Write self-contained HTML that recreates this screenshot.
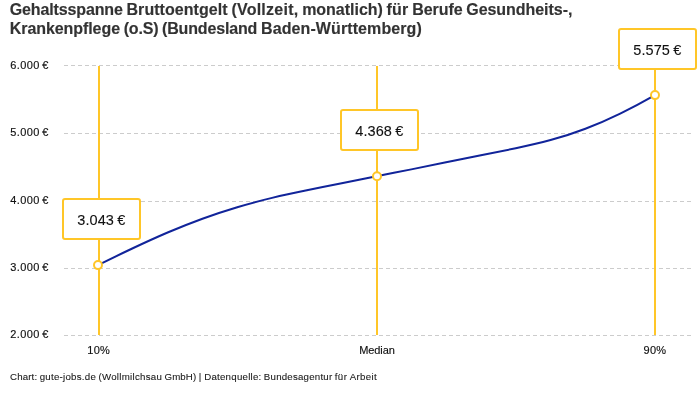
<!DOCTYPE html>
<html lang="de"><head><meta charset="utf-8"><title>Gehaltsspanne Bruttoentgelt</title>
<style>
html,body{margin:0;padding:0;background:#fff;}
body{width:700px;height:400px;position:relative;overflow:hidden;font-family:"Liberation Sans",sans-serif;color:#333;}
h1,p,div{margin:0;padding:0;font-weight:400;font-size:11px;}
.w{position:absolute;white-space:nowrap;}
.title .w{font-size:16px;font-weight:700;line-height:20px;color:#333;-webkit-text-stroke:0.15px #333;}
.yl .w{font-size:11px;font-weight:400;line-height:14px;color:#111;-webkit-text-stroke:0.15px #111;}
.xl .w{font-size:11px;font-weight:400;line-height:14px;color:#111;-webkit-text-stroke:0.15px #111;}
.val .w{font-size:14.5px;font-weight:400;line-height:18px;color:#111;-webkit-text-stroke:0.1px #111;}
.foot .w{font-size:9.7px;font-weight:400;line-height:13px;color:#1a1a1a;-webkit-text-stroke:0.1px #1a1a1a;}
.box{position:absolute;box-sizing:border-box;border:2px solid #ffc628;border-radius:3px;background:#fff;width:79px;height:42px;}
svg{position:absolute;left:0;top:0;}
</style></head><body>
<h1 class="title"><span class="w" style="left:9.80px;top:0.00px;letter-spacing:-0.135px">Gehaltsspanne</span> <span class="w" style="left:126.52px;top:0.00px;letter-spacing:0.050px">Bruttoentgelt</span> <span class="w" style="left:231.38px;top:0.00px;letter-spacing:0.242px">(Vollzeit,</span> <span class="w" style="left:302.16px;top:0.00px;letter-spacing:-0.023px">monatlich)</span> <span class="w" style="left:386.58px;top:0.00px;letter-spacing:0.151px">für</span> <span class="w" style="left:412.13px;top:0.00px;letter-spacing:-0.049px">Berufe</span> <span class="w" style="left:466.27px;top:0.00px;letter-spacing:-0.047px">Gesundheits-,</span> <span class="w" style="left:9.80px;top:19.20px;letter-spacing:-0.075px">Krankenpflege</span> <span class="w" style="left:123.72px;top:19.20px;letter-spacing:-0.197px">(o.S)</span> <span class="w" style="left:162.05px;top:19.20px;letter-spacing:-0.156px">(Bundesland</span> <span class="w" style="left:260.97px;top:19.20px;letter-spacing:0.102px">Baden-Württemberg)</span></h1>
<svg width="700" height="400" viewBox="0 0 700 400">
<g stroke="#ccc" stroke-width="1" stroke-dasharray="4,3" shape-rendering="crispEdges">
<line x1="64" x2="693" y1="65.5" y2="65.5"/>
<line x1="64" x2="693" y1="133.5" y2="133.5"/>
<line x1="64" x2="693" y1="201.5" y2="201.5"/>
<line x1="64" x2="693" y1="268.5" y2="268.5"/>
<line x1="64" x2="693" y1="335.5" y2="335.5"/>
</g>
<g stroke="#ffc628" stroke-width="2">
<line x1="99" x2="99" y1="66" y2="335"/>
<line x1="377" x2="377" y1="66" y2="335"/>
<line x1="655" x2="655" y1="66" y2="335"/>
</g>
<path d="M98.00,265.20C109.60,259.39,121.21,253.74,132.81,248.27C144.42,242.79,156.02,237.50,167.62,232.52C179.23,227.55,190.83,222.91,202.44,218.69C214.04,214.48,225.65,210.66,237.25,207.20C248.85,203.74,260.46,200.64,272.06,197.87C283.67,195.09,295.27,192.64,306.88,190.28C318.48,187.92,330.08,185.61,341.69,183.29C353.29,180.97,364.90,178.65,376.50,176.33C388.10,174.00,399.71,171.69,411.31,169.36C422.92,167.02,434.52,164.68,446.12,162.34C457.73,160.00,469.33,157.66,480.94,155.32C492.54,152.98,504.15,150.67,515.75,148.24C527.35,145.81,538.96,143.22,550.56,140.08C562.17,136.94,573.77,133.22,585.38,128.77C596.98,124.33,608.58,119.20,620.19,113.55C631.79,107.90,643.40,101.73,655.00,95.09" fill="none" stroke="#11249a" stroke-width="2"/>
<g stroke="#ffc628" stroke-width="2" fill="#fff">
<circle cx="98" cy="265.1" r="4"/><circle cx="377" cy="176.25" r="4"/><circle cx="655" cy="95.1" r="4"/>
</g>
</svg>
<div class="yl"><span class="w" style="left:10.30px;top:58.00px;letter-spacing:0.375px">6.000</span> <span class="w" style="left:42.28px;top:58.00px;letter-spacing:0.766px">€</span> <span class="w" style="left:10.30px;top:125.00px;letter-spacing:0.375px">5.000</span> <span class="w" style="left:42.28px;top:125.00px;letter-spacing:0.766px">€</span> <span class="w" style="left:10.30px;top:193.00px;letter-spacing:0.375px">4.000</span> <span class="w" style="left:42.28px;top:193.00px;letter-spacing:0.766px">€</span> <span class="w" style="left:10.30px;top:260.00px;letter-spacing:0.375px">3.000</span> <span class="w" style="left:42.28px;top:260.00px;letter-spacing:0.766px">€</span> <span class="w" style="left:10.30px;top:327.00px;letter-spacing:0.375px">2.000</span> <span class="w" style="left:42.28px;top:327.00px;letter-spacing:0.766px">€</span></div>
<div class="xl"><span class="w" style="left:87.22px;top:343.00px;letter-spacing:0.302px">10%</span> <span class="w" style="left:359.25px;top:343.00px;letter-spacing:-0.095px">Median</span> <span class="w" style="left:643.53px;top:343.00px;letter-spacing:0.302px">90%</span></div>
<div class="box" style="left:62px;top:198px"></div><div class="box" style="left:340px;top:109px"></div><div class="box" style="left:618px;top:28px"></div>
<div class="val"><span class="w" style="left:77.26px;top:211.00px;letter-spacing:0.075px">3.043</span> <span class="w" style="left:117.15px;top:211.00px;letter-spacing:0.512px">€</span> <span class="w" style="left:355.26px;top:122.00px;letter-spacing:0.075px">4.368</span> <span class="w" style="left:395.15px;top:122.00px;letter-spacing:0.512px">€</span> <span class="w" style="left:633.26px;top:41.00px;letter-spacing:0.075px">5.575</span> <span class="w" style="left:673.15px;top:41.00px;letter-spacing:0.512px">€</span></div>
<p class="foot"><span class="w" style="left:10.00px;top:370.00px;letter-spacing:0.155px">Chart:</span> <span class="w" style="left:39.66px;top:370.00px;letter-spacing:0.256px">gute-jobs.de</span> <span class="w" style="left:98.40px;top:370.00px;letter-spacing:0.279px">(Wollmilchsau</span> <span class="w" style="left:164.49px;top:370.00px;letter-spacing:0.125px">GmbH)</span> <span class="w" style="left:198.67px;top:370.00px;letter-spacing:0.619px">|</span> <span class="w" style="left:204.16px;top:370.00px;letter-spacing:0.247px">Datenquelle:</span> <span class="w" style="left:263.87px;top:370.00px;letter-spacing:0.215px">Bundesagentur</span> <span class="w" style="left:334.72px;top:370.00px;letter-spacing:0.424px">für</span> <span class="w" style="left:349.65px;top:370.00px;letter-spacing:0.337px">Arbeit</span></p>
</body></html>
